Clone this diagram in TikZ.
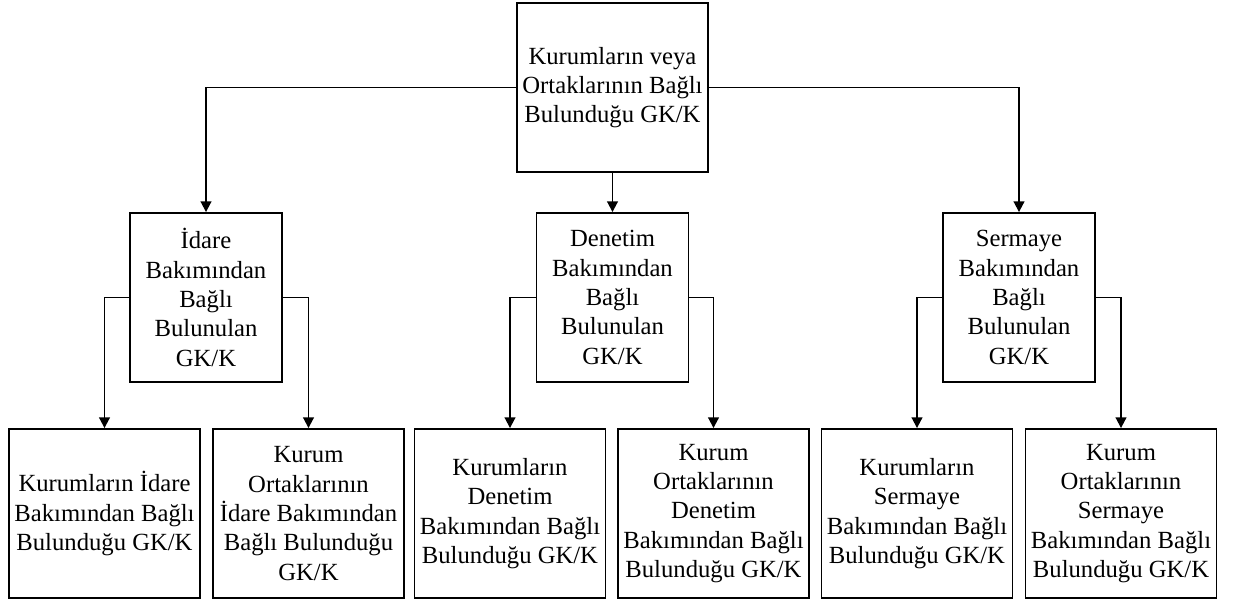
\documentclass[tikz,border=0pt]{standalone}
\usepackage{fontspec}
\setmainfont{Liberation Serif}
\usepackage{tikz}
\usetikzlibrary{arrows.meta}

\begin{document}
\begin{tikzpicture}[
x = 0.75pt, y = 0.75pt,
topbox/.style={rectangle, align = center, draw = black, line width = 1.4pt,
inner sep = 0pt, minimum width = 143.25pt, minimum height = 126.75pt,
font = \fontsize{18.5}{22}\selectfont},
midbox/.style={topbox, minimum width = 114pt},
leafbox/.style={topbox},
branch/.style={-{Triangle[length=8pt, width=8pt]}, line width = 1.4pt, draw = black}]

\useasboundingbox (0,0) rectangle (1234,601);

% ust kutu
\node[topbox] (GK) at (612.5,513.5) {Kurumların veya\\Ortaklarının Bağlı\\Bulunduğu GK/K};

% orta kutular
\node[midbox] (Idare) at (206,303.5) {İdare\\Bakımından\\Bağlı\\Bulunulan\\GK/K};
\node[midbox] (Denetim) at (612.5,303.5) {Denetim\\Bakımından\\Bağlı\\Bulunulan\\GK/K};
\node[midbox] (Sermaye) at (1019,303.5) {Sermaye\\Bakımından\\Bağlı\\Bulunulan\\GK/K};

% alt kutular
\node[leafbox] (KI) at (104.5,87.5) {Kurumların İdare\\Bakımından Bağlı\\Bulunduğu GK/K};
\node[leafbox] (OI) at (308.5,87.5) {Kurum\\Ortaklarının\\İdare Bakımından\\Bağlı Bulunduğu\\GK/K};
\node[leafbox] (KD) at (510,87.5) {Kurumların\\Denetim\\Bakımından Bağlı\\Bulunduğu GK/K};
\node[leafbox] (OD) at (713.5,87.5) {Kurum\\Ortaklarının\\Denetim\\Bakımından Bağlı\\Bulunduğu GK/K};
\node[leafbox] (KS) at (917,87.5) {Kurumların\\Sermaye\\Bakımından Bağlı\\Bulunduğu GK/K};
\node[leafbox] (OS) at (1121,87.5) {Kurum\\Ortaklarının\\Sermaye\\Bakımından Bağlı\\Bulunduğu GK/K};

% oklar
\draw[branch] (GK.west) -| (Idare.north);
\draw[branch] (GK.south) -- (Denetim.north);
\draw[branch] (GK.east) -| (Sermaye.north);

\draw[branch] (Idare.west) -| (KI.north);
\draw[branch] (Idare.east) -| (OI.north);
\draw[branch] (Denetim.west) -| (KD.north);
\draw[branch] (Denetim.east) -| (OD.north);
\draw[branch] (Sermaye.west) -| (KS.north);
\draw[branch] (Sermaye.east) -| (OS.north);
\end{tikzpicture}
\end{document}
